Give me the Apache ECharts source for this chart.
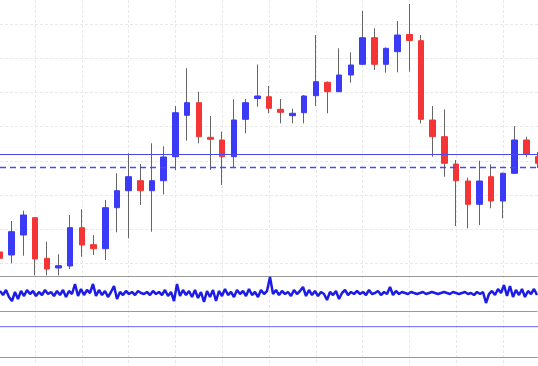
<!DOCTYPE html>
<html><head><meta charset="utf-8">
<style>html,body{margin:0;padding:0;background:#fff;overflow:hidden}#c{width:538px;height:366px}</style>
<script src="https://cdn.jsdelivr.net/npm/echarts@6/dist/echarts.min.js"></script>
</head><body><div id="c"></div>
<script>
const categories = ['1','2','3','4','5','6','7','8','9','10','11','12','13','14','15','16','17','18','19','20','21','22','23','24','25','26','27','28','29','30','31','32','33','34','35','36','37','38','39','40','41','42','43','44','45','46','47'];
const opens  = [3.33,2.46,8.30,13.36,1.49,-1.35,-0.76,10.44,5.47,4.30,16.29,21.26,24.18,21.26,24.18,31.20,43.30,46.99,36.87,36.08,31.20,42.13,48.22,48.74,45.06,43.19,44.06,49.04,52.95,50.20,55.09,58.22,65.99,58.22,61.90,66.93,65.12,41.93,37.05,29.06,24.09,17.28,25.35,18.25,26.35,36.08,31.20];
const closes = [1.49,9.27,14.15,1.29,-1.64,-0.67,10.44,5.38,4.30,16.29,21.26,25.35,21.26,24.18,31.11,44.06,46.99,37.05,36.29,31.20,41.93,46.99,48.95,45.35,44.18,43.89,48.95,53.13,50.20,55.09,58.01,65.99,58.22,62.89,66.78,65.18,42.13,37.05,29.27,24.18,17.28,24.09,18.25,26.35,36.08,31.99,29.27];
const lows   = [0.99,0.03,2.25,-3.5,-3.5,-3.5,-1.64,1.96,2.46,0.99,9.09,7.34,17.08,9.27,20.15,27.31,35.88,35.12,27.31,22.92,28.10,38.04,45.82,43.89,40.96,40.96,40.96,46.02,43.89,50.12,52.84,58.01,56.55,55.76,55.88,56.06,40.96,31.20,25.35,10.94,10.26,11.23,16.11,13.19,26.14,31.02,27.90];
const highs  = [3.92,12.40,15.41,13.50,6.35,2.66,14.15,15.82,8.30,18.54,26.35,32.19,29.06,35.12,34.24,46.02,57.05,50.20,43.10,38.51,47.98,48.07,58.16,51.87,48.07,45.23,49.24,66.78,53.19,62.89,61.73,73.80,68.74,63.13,70.88,75.85,66.78,46.02,45.06,30.23,25.06,30.03,28.98,26.58,40.18,37.05,32.57];
const solidLevel = 31.90;
const dashedLevel = 28.0;
const oscValues = [
  20,16,21,14,10,19,12,20,15,21,
  17,20,15,19,16,21,17,19,15,20,
  16,21,14,20,17,27,15,22,16,21,
  18,27,15,21,16,20,14,19,25,12,
  19,16,20,17,19,16,20,18,17,19,
  16,20,17,19,16,21,15,19,10,27,
  15,21,16,20,14,21,13,19,9,20,
  14,21,10,20,15,22,16,19,14,21,
  17,20,15,22,16,19,14,21,17,20,
  34,17,21,16,20,17,19,15,21,17,
  20,24,15,21,16,20,15,19,17,11,
  19,16,20,12,18,21,16,19,17,20,
  17,19,16,21,17,18,20,16,19,17,
  24,16,20,17,19,18,17,19,18,17,
  18,19,17,18,19,18,17,18,19,18,
  17,19,18,17,18,19,17,18,16,19,
  17,19,8,17,20,16,22,18,26,15,
  25,14,21,16,22,14,20,17,22,16
];
const flatValues = [30.3,30.3];

const BLUE = '#3b3bf7', RED = '#f53535', WICK = '#666666', GRIDC = '#e9e9e9', BORDER = '#9a9a9a', LEVEL = '#4848f5';
const wickData = opens.map((o,i)=>[o, closes[i], lows[i], highs[i]]);
const bodyData = opens.map((o,i)=>[o, closes[i], Math.min(o,closes[i]), Math.max(o,closes[i])]);
const oscCats = oscValues.map((_,i)=>String(i));
const flatCats = flatValues.map((_,i)=>String(i));

const hidden = {axisLine:{show:false},axisTick:{show:false},axisLabel:{show:false},splitLine:{show:false}};
const chart = echarts.init(document.getElementById('c'), null, {renderer:'canvas'});
chart.setOption({
  animation:false,
  backgroundColor:'#ffffff',
  grid:[
    {left:0,right:-2.5,top:0,bottom:0},
    {left:0,right:-2.5,top:24,height:239.4},
    {left:0,right:-2.5,top:0,height:276},
    {left:0,right:1,top:276,height:35},
    {left:0,right:-2.5,top:311,height:46}
  ],
  xAxis:[
    Object.assign({gridIndex:0,type:'category',data:categories,boundaryGap:false},hidden,{splitLine:{show:true,interval:(i)=>i%4===3,lineStyle:{color:GRIDC,type:[3,2],width:1}}}),
    Object.assign({gridIndex:1,type:'category',data:categories,boundaryGap:false},hidden),
    Object.assign({gridIndex:2,type:'category',data:categories,boundaryGap:false},hidden,{axisLine:{show:true,onZero:false,lineStyle:{color:BORDER,width:1}}}),
    Object.assign({gridIndex:3,type:'category',data:oscCats,boundaryGap:false},hidden,{axisLine:{show:true,onZero:false,lineStyle:{color:BORDER,width:1}}}),
    Object.assign({gridIndex:4,type:'category',data:flatCats,boundaryGap:false},hidden,{axisLine:{show:true,onZero:false,lineStyle:{color:BORDER,width:1}}})
  ],
  yAxis:[
    Object.assign({gridIndex:0,type:'value',min:0,max:1},hidden),
    Object.assign({gridIndex:1,type:'value',min:0,max:70,interval:10},hidden,{splitLine:{show:true,lineStyle:{color:GRIDC,type:[3,2],width:1}}}),
    Object.assign({gridIndex:2,type:'value',min:-3.684,max:77.017},hidden),
    Object.assign({gridIndex:3,type:'value',min:0,max:35},hidden),
    Object.assign({gridIndex:4,type:'value',min:0,max:46},hidden)
  ],
  series:[
    {type:'candlestick',xAxisIndex:2,yAxisIndex:2,data:wickData,barWidth:1,clip:false,silent:true,
      itemStyle:{color:WICK,color0:WICK,borderColor:WICK,borderColor0:WICK,borderWidth:1}},
    {type:'candlestick',xAxisIndex:2,yAxisIndex:2,data:bodyData,barWidth:6,clip:false,silent:true,
      itemStyle:{color:BLUE,color0:RED,borderColor:BLUE,borderColor0:RED,borderWidth:1}},
    {type:'line',xAxisIndex:2,yAxisIndex:2,data:[],silent:true,
      markLine:{silent:true,symbol:['none','none'],label:{show:false},animation:false,
        lineStyle:{color:LEVEL,width:1,type:'solid'},
        data:[{yAxis:solidLevel,lineStyle:{color:LEVEL,width:1,type:'solid'}}]}},
    {type:'line',xAxisIndex:2,yAxisIndex:2,data:[],silent:true,
      markLine:{silent:true,symbol:['none','none'],label:{show:false},animation:false,
        lineStyle:{color:LEVEL,width:1.4,type:[6,4]},
        data:[{yAxis:dashedLevel,lineStyle:{color:LEVEL,width:1.4,type:[6,4]}}]}},
    {type:'line',xAxisIndex:3,yAxisIndex:3,data:oscValues,showSymbol:false,silent:true,
      lineStyle:{width:2.5,color:'#1c1ce6'}},
    {type:'line',xAxisIndex:4,yAxisIndex:4,data:flatValues,showSymbol:false,silent:true,
      lineStyle:{width:1,color:'#6464ee'}}
  ]
});
</script></body></html>
